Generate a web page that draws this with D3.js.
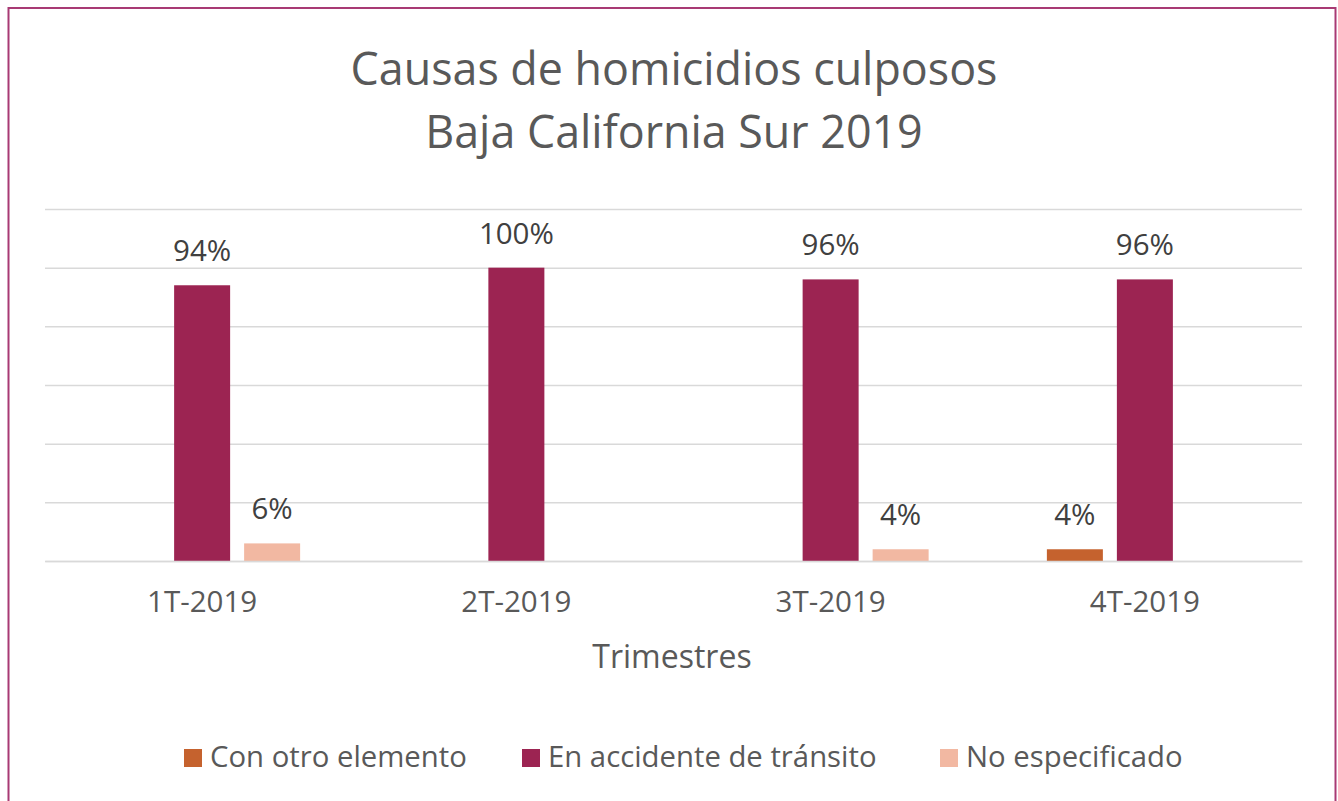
<!DOCTYPE html>
<html>
<head>
<meta charset="utf-8">
<script src="https://cdn.jsdelivr.net/npm/d3@7"></script>
<style>
  body { margin: 0; background: #fff; }
  svg { font-family: "Open Sans", Lato, sans-serif; }
</style>
</head>
<body>
<div id="chart"></div>
<script>
// data
var trimestres = ["1T-2019", "2T-2019", "3T-2019", "4T-2019"];
var series = ["Con otro elemento", "En accidente de tránsito", "No especificado"];
var conOtro = [0, 0, 0, 0.04];
var accidente = [0.94, 1.00, 0.96, 0.96];
var noEspecificado = [0.06, 0, 0.04, 0];
var colors = ["#c5622e", "#9c2452", "#f2b8a2"];
var yTicks = [0, 0.2, 0.4, 0.6, 0.8, 1.0, 1.2];

var width = 1338, height = 801;
var margin = {top: 209, right: 36, bottom: 240, left: 45};
var chartWidth = width - margin.left - margin.right;
var chartHeight = height - margin.top - margin.bottom;

var svg = d3.select("#chart").append("svg")
  .attr("width", width)
  .attr("height", height);

// outer frame
svg.append("rect")
  .attr("x", 8.5).attr("y", 8)
  .attr("width", 1327).attr("height", 800)
  .attr("fill", "none")
  .attr("stroke", "#a83a74")
  .attr("stroke-width", 2);

var titleLines = ["Causas de homicidios culposos", "Baja California Sur 2019"];
svg.append("g").selectAll("text")
  .data(titleLines)
  .enter()
  .append("text")
  .attr("x", 674).attr("y", (d, i) => 85 + i * 63)
  .attr("text-anchor", "middle")
  .attr("font-size", 44.8)
  .attr("fill", "#595959")
  .text(d => d);

var g = svg.append("g")
  .attr("transform", `translate(${margin.left}, ${margin.top})`);

var xScale = d3.scaleBand()
  .domain(trimestres)
  .range([0, chartWidth]);

var yScale = d3.scaleLinear()
  .domain([0, 1.2])
  .range([chartHeight, 0]);

var barW = 56, step = 70;
var xSub = d3.scaleOrdinal()
  .domain(series)
  .range([-step, 0, step]);

// gridlines
var yAxis = d3.axisLeft(yScale)
  .tickValues(yTicks)
  .tickSize(-chartWidth)
  .tickFormat("");
g.append("g")
  .attr("class", "y axis")
  .call(yAxis)
  .call(s => s.select(".domain").remove())
  .call(s => s.selectAll("line").attr("stroke", "#d9d9d9").attr("stroke-width", 1.5));

var rows = [];
trimestres.forEach((t, i) => {
  [conOtro, accidente, noEspecificado].forEach((arr, j) => {
    if (arr[i] > 0) rows.push({t: t, s: series[j], v: arr[i], c: colors[j]});
  });
});

g.append("g").selectAll("rect")
  .data(rows)
  .enter()
  .append("rect")
  .attr("x", d => xScale(d.t) + xScale.bandwidth() / 2 + xSub(d.s) - barW / 2)
  .attr("y", d => yScale(d.v))
  .attr("width", barW)
  .attr("height", d => chartHeight - yScale(d.v))
  .attr("fill", d => d.c);

g.append("g").selectAll("text")
  .data(rows)
  .enter()
  .append("text")
  .attr("x", d => xScale(d.t) + xScale.bandwidth() / 2 + xSub(d.s))
  .attr("y", d => yScale(d.v) - 24)
  .attr("text-anchor", "middle")
  .attr("font-size", 29.5)
  .attr("fill", "#404040")
  .text(d => Math.round(d.v * 100) + "%");

// x axis
var xAxis = d3.axisBottom(xScale).tickSize(0).tickPadding(30);
g.append("g")
  .attr("class", "x axis")
  .attr("transform", `translate(0,${chartHeight})`)
  .call(xAxis)
  .call(s => s.select(".domain").attr("stroke", "#d9d9d9").attr("stroke-width", 1.5))
  .call(s => s.selectAll("text").attr("font-size", 29.5).attr("fill", "#595959").attr("font-family", "'Open Sans', sans-serif"));

svg.append("text")
  .attr("x", 672).attr("y", 668)
  .attr("text-anchor", "middle")
  .attr("font-size", 32)
  .attr("fill", "#595959")
  .text("Trimestres");

// legend
var legendX = [184, 522, 940];
var legend = svg.append("g").selectAll("g")
  .data(series)
  .enter()
  .append("g")
  .attr("transform", (d, i) => `translate(${legendX[i]}, 749)`);
legend.append("rect")
  .attr("width", 18).attr("height", 18)
  .attr("fill", (d, i) => colors[i]);
legend.append("text")
  .attr("x", 26).attr("y", 18)
  .attr("font-size", 29.3)
  .attr("fill", "#595959")
  .text(d => d);
</script>
</body>
</html>
